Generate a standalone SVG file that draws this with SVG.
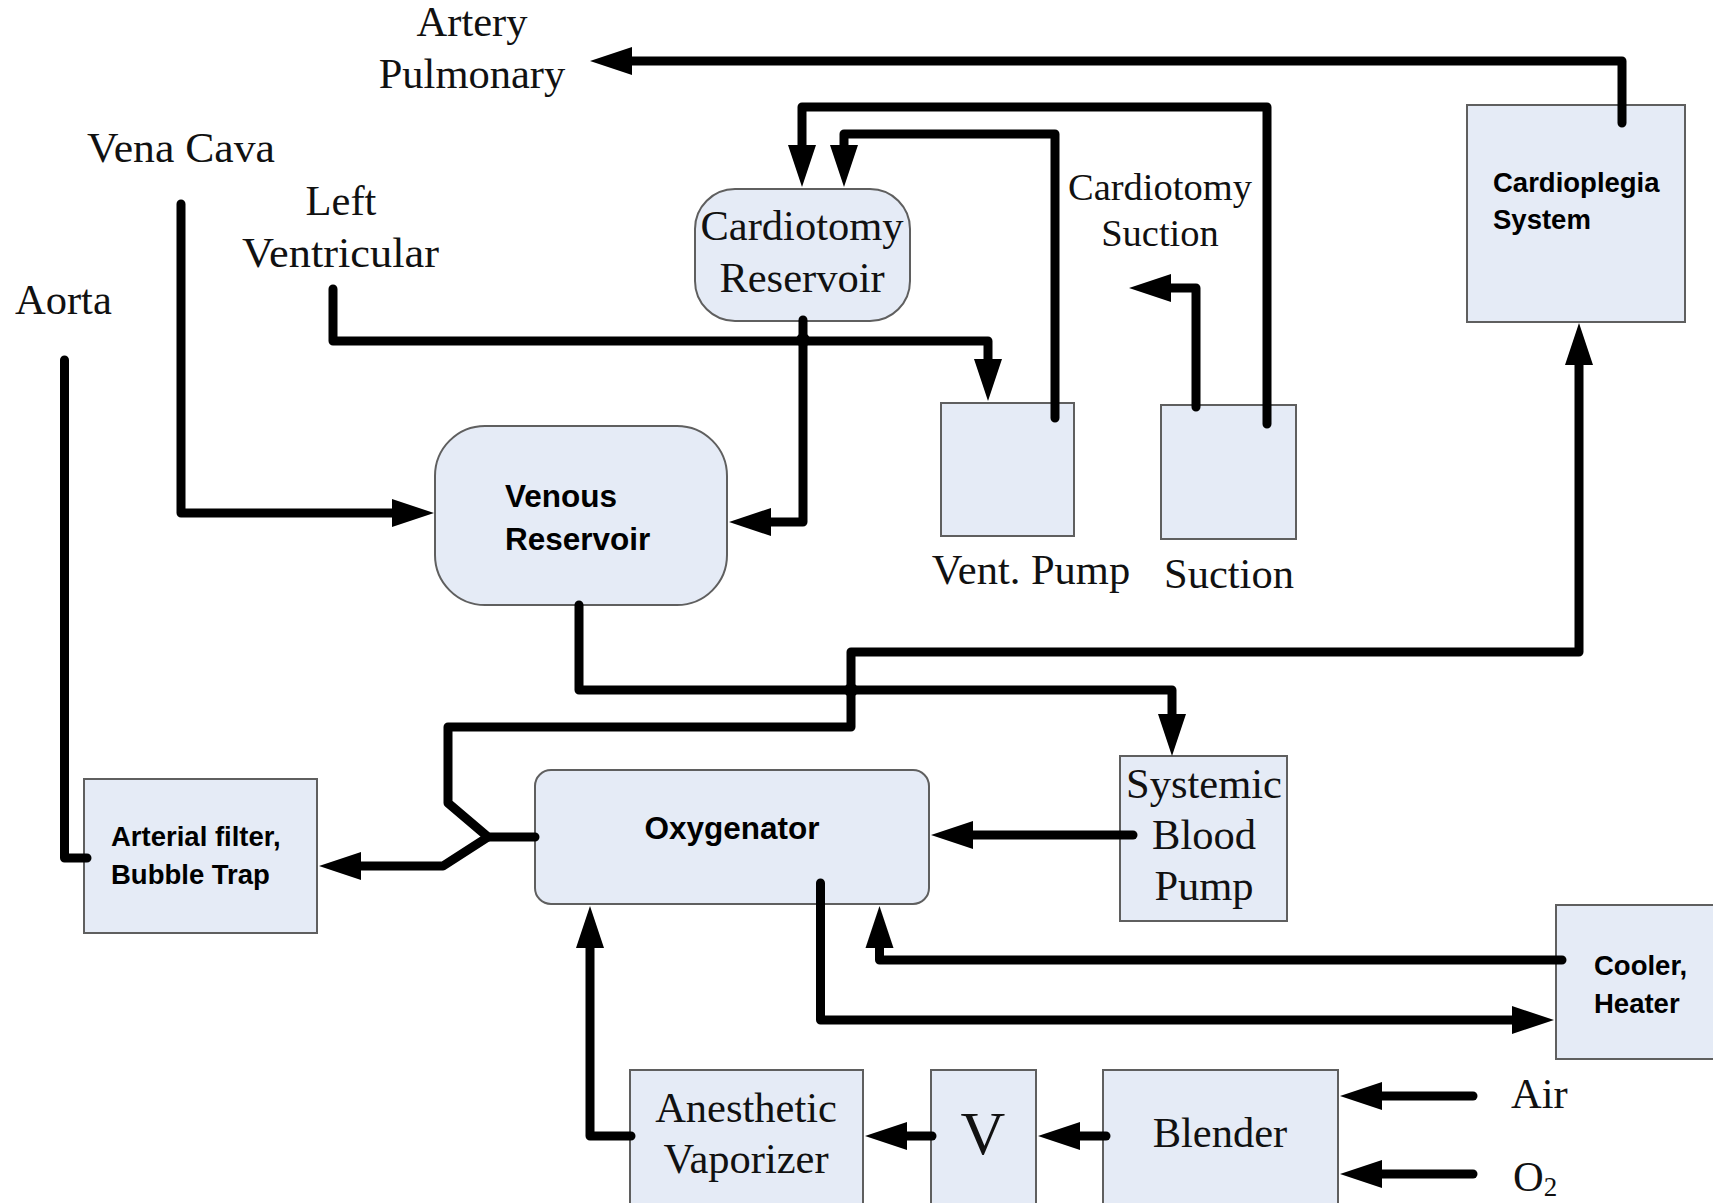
<svg xmlns="http://www.w3.org/2000/svg" width="1713" height="1203" viewBox="0 0 1713 1203">
<defs>
<marker id="ah" markerUnits="userSpaceOnUse" markerWidth="44" markerHeight="30" refX="0" refY="14" orient="auto" overflow="visible">
<path d="M0,0 L42,14 L0,28 z" fill="#000"/>
</marker>
<style>
.box{fill:#e5ebf6;stroke:#5f5f5f;stroke-width:2}
.ser{font-family:"Liberation Serif","Times New Roman",serif;font-size:42.5px;fill:#111}
.bold{font-family:"Liberation Sans",Arial,sans-serif;font-weight:bold;font-size:27.5px;fill:#000}
.big{font-size:31.5px}
.c{text-anchor:middle}
.ln{fill:none;stroke:#000;stroke-width:9;stroke-linecap:round;stroke-linejoin:round}
.arr{marker-end:url(#ah)}
</style>
</defs>
<rect width="1713" height="1203" fill="#fff"/>

<g id="labels">
<text class="ser c" x="472" y="36">Artery</text>
<text class="ser c" x="472" y="88">Pulmonary</text>
<text class="ser" x="87" y="162" textLength="188" lengthAdjust="spacingAndGlyphs">Vena Cava</text>
<text class="ser c" x="341" y="215">Left</text>
<text class="ser" x="242" y="267" textLength="197" lengthAdjust="spacingAndGlyphs">Ventricular</text>
<text class="ser" x="15" y="314">Aorta</text>
<text class="ser c" x="1160" y="200" style="font-size:38.5px">Cardiotomy</text>
<text class="ser c" x="1160" y="246" style="font-size:38.5px">Suction</text>
<text class="ser c" x="1031" y="584">Vent. Pump</text>
<text class="ser c" x="1229" y="588">Suction</text>
<text class="ser" x="1511" y="1108">Air</text>
<text class="ser" x="1513" y="1191">O<tspan dy="5" style="font-size:27px">2</tspan></text>
</g>

<g id="cardioplegia">
<rect class="box" x="1467" y="105" width="218" height="217"/>
<text class="bold" x="1493" y="192">Cardioplegia</text>
<text class="bold" x="1493" y="229">System</text>
</g>
<g id="cardiotomy-reservoir">
<rect class="box" x="695" y="189" width="215" height="132" rx="40"/>
<text class="ser c" x="802" y="240">Cardiotomy</text>
<text class="ser c" x="802" y="292">Reservoir</text>
</g>
<g id="vent-pump">
<rect class="box" x="941" y="403" width="133" height="133"/>
</g>
<g id="suction">
<rect class="box" x="1161" y="405" width="135" height="134"/>
</g>
<g id="venous-reservoir">
<rect class="box" x="435" y="426" width="292" height="179" rx="50"/>
<text class="bold big" x="505" y="507">Venous</text>
<text class="bold big" x="505" y="550">Reservoir</text>
</g>
<g id="oxygenator">
<rect class="box" x="535" y="770" width="394" height="134" rx="16"/>
<text class="bold big c" x="732" y="839">Oxygenator</text>
</g>
<g id="systemic-blood-pump">
<rect class="box" x="1120" y="756" width="167" height="165"/>
<text class="ser c" x="1204" y="798">Systemic</text>
<text class="ser c" x="1204" y="849">Blood</text>
<text class="ser c" x="1204" y="900">Pump</text>
</g>
<g id="arterial-filter">
<rect class="box" x="84" y="779" width="233" height="154"/>
<text class="bold" x="111" y="846">Arterial filter,</text>
<text class="bold" x="111" y="884">Bubble Trap</text>
</g>
<g id="cooler-heater">
<rect class="box" x="1556" y="905" width="170" height="154"/>
<text class="bold" x="1594" y="975">Cooler,</text>
<text class="bold" x="1594" y="1013">Heater</text>
</g>
<g id="anesthetic-vaporizer">
<rect class="box" x="630" y="1070" width="233" height="145"/>
<text class="ser c" x="746" y="1122">Anesthetic</text>
<text class="ser c" x="746" y="1173">Vaporizer</text>
</g>
<g id="v">
<rect class="box" x="931" y="1070" width="105" height="145"/>
<text class="ser c" x="983" y="1154" style="font-size:62px">V</text>
</g>
<g id="blender">
<rect class="box" x="1103" y="1070" width="235" height="145"/>
<text class="ser c" x="1220" y="1147">Blender</text>
</g>

<g id="connectors">
<path class="ln arr" d="M1622 123 V61 H632"/>
<path class="ln arr" d="M181 204 V513 H392"/>
<path class="ln arr" d="M333 289 V341 H988 V359"/>
<path class="ln arr" d="M803 320 V522 H771"/>
<circle cx="803" cy="340" r="7" fill="#000"/>
<path class="ln arr" d="M1267 424 V107 H802 V145"/>
<path class="ln arr" d="M1055 418 V134 H844 V145"/>
<path class="ln arr" d="M1196 407 V288 H1171"/>
<path class="ln arr" d="M579 605 V690 H1172 V714"/>
<path class="ln arr" d="M535 837 H488 L448 803 V727 H851 V652 H1579 V365"/>
<circle cx="851" cy="690" r="7" fill="#000"/>
<path class="ln arr" d="M488 837 L443 866 H361"/>
<path class="ln" d="M64.5 360 V858 H87"/>
<path class="ln arr" d="M1133 835 H973"/>
<path class="ln arr" d="M1562 960 H879.5 V948"/>
<path class="ln arr" d="M820.5 883 V1020 H1512"/>
<path class="ln arr" d="M631 1136 H590 V948"/>
<path class="ln arr" d="M932 1136 H907"/>
<path class="ln arr" d="M1106 1136 H1080"/>
<path class="ln arr" d="M1473 1096 H1382"/>
<path class="ln arr" d="M1473 1174 H1382"/>
</g>
</svg>
